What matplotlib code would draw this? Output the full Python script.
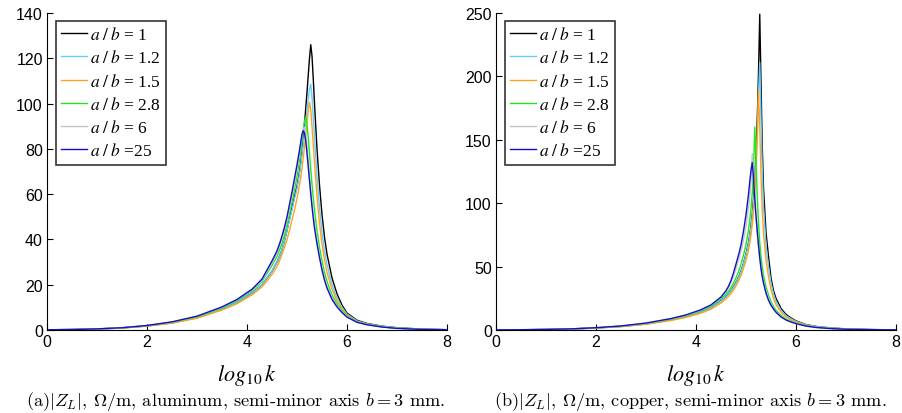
import numpy as np
import matplotlib
matplotlib.use("Agg")
import matplotlib.pyplot as plt
from matplotlib.font_manager import FontProperties

# ============================================================
# Data
# ============================================================

log_k = [0, 0.5, 1, 1.5, 2, 2.5, 3, 3.5, 3.8, 4.1, 4.3, 4.5,
         4.6, 4.65, 4.7, 4.75, 4.8, 4.85, 4.9, 4.95, 5.0, 5.05,
         5.075, 5.1, 5.125, 5.15, 5.175, 5.2, 5.225, 5.25, 5.275, 5.3, 5.325, 5.35,
         5.4, 5.45, 5.5, 5.55, 5.6,
         5.7, 5.8, 5.9, 6.0, 6.2, 6.4, 6.7, 7.0, 7.5, 8]

labels = ["1", "1.2", "1.5", "2.8", "6", "25"]

# (a) aluminum
al_1 = [0.1, 0.2, 0.45, 0.9, 1.8, 3.2, 5.5, 9.2, 12.2, 16.3, 20, 26,
        30, 32.5, 35.5, 39.5, 44, 49, 54, 59, 63.5, 70,
        74, 79, 84.5, 91, 98, 105, 112.5, 120, 126, 121, 111, 100,
        80, 64, 51, 41, 33.5,
        23, 16, 11, 7.5, 4.3, 2.9, 1.7, 1.0, 0.4, 0.15]
al_1_2 = [0.1, 0.2, 0.45, 0.9, 1.8, 3.2, 5.5, 9.2, 12.2, 16.3, 20, 26,
          30, 32.5, 35.5, 39.5, 44, 48.5, 53, 58, 62.5, 69,
          73, 77.5, 82, 87, 92, 97, 102, 106.5, 108.5, 103, 94, 85,
          68, 54, 43, 35, 29,
          20, 14, 10, 7, 4.0, 2.7, 1.6, 0.9, 0.35, 0.12]
al_1_5 = [0.1, 0.2, 0.42, 0.85, 1.7, 3.0, 5.2, 8.8, 11.6, 15.5, 19, 24.5,
          28, 30.5, 33.5, 36.5, 40, 44, 48.5, 53, 58, 64,
          67.5, 71.5, 76, 81, 86, 91.5, 97, 100.5, 97.5, 90, 82, 74,
          59, 47, 38, 31, 25.5,
          18, 12.8, 9.2, 6.6, 3.8, 2.6, 1.5, 0.85, 0.3, 0.1]
al_2_8 = [0.1, 0.2, 0.48, 0.95, 1.9, 3.4, 5.8, 9.7, 12.9, 17.2, 21.5, 28.5,
          32.5, 35.2, 38.3, 42, 46.5, 51.5, 56.5, 62, 68, 75,
          79, 83.5, 88, 92.5, 94, 91, 85, 78, 71, 64.5, 58.5, 53,
          44, 36.5, 30.5, 25.5, 21.5,
          15.5, 11.5, 8.5, 6.2, 3.6, 2.5, 1.4, 0.8, 0.3, 0.1]
al_6 = [0.1, 0.2, 0.5, 1.0, 2.0, 3.5, 6.0, 10, 13.3, 17.7, 22, 29.5,
        34, 37, 40.5, 44.3, 48.5, 53.5, 59, 65, 71, 78,
        82, 86, 89, 89.5, 86.5, 81, 74.5, 68, 62, 56.5, 51.5, 47,
        39.5, 33, 27.5, 23, 19.5,
        14.2, 10.7, 8, 5.9, 3.5, 2.4, 1.35, 0.75, 0.28, 0.1]
al_25 = [0.1, 0.2, 0.5, 1.0, 2.0, 3.6, 6.1, 10.2, 13.5, 18, 22.5, 30.5,
         35, 38, 41.5, 45.5, 50, 55.5, 61, 67, 73, 79.5,
         83, 86.5, 88, 87, 83.5, 78, 72, 66, 60, 54.5, 49.5, 45,
         38, 32, 26.5, 22, 18.5,
         13.5, 10.2, 7.7, 5.7, 3.4, 2.3, 1.3, 0.7, 0.27, 0.1]

# (b) copper
cu_1 = [0.1, 0.2, 0.4, 0.8, 1.6, 2.8, 4.8, 8, 10.5, 14.2, 17.5, 23,
        26.5, 28.5, 31, 34, 37.5, 41.5, 46.5, 52.5, 60, 69,
        75, 82, 91, 103, 118, 138, 166, 203, 249, 195, 145, 112,
        77, 58, 41, 31, 25,
        17, 12.3, 9.5, 7.2, 4.3, 2.8, 1.6, 0.9, 0.35, 0.12]
cu_1_2 = [0.1, 0.2, 0.4, 0.8, 1.6, 2.8, 4.8, 8, 10.5, 14.1, 17.4, 22.8,
          26.3, 28.3, 30.8, 33.7, 37.2, 41.2, 46, 52, 59.5, 68,
          74, 81, 89.5, 100, 114, 132, 155, 185, 211, 168, 127, 98,
          67, 50, 37, 28.5, 22.5,
          15.5, 11.3, 8.8, 6.8, 4.1, 2.7, 1.5, 0.85, 0.33, 0.11]
cu_1_5 = [0.1, 0.2, 0.38, 0.75, 1.5, 2.6, 4.5, 7.5, 9.9, 13.3, 16.4, 21.3,
          24.5, 26.5, 28.8, 31.5, 34.8, 38.5, 43, 48.5, 55, 63,
          68.5, 75, 83, 93, 106, 123, 150, 189, 160, 122, 95, 77,
          55, 42, 32, 25, 20,
          14, 10.4, 8, 6.3, 3.8, 2.5, 1.4, 0.8, 0.3, 0.1]
cu_2_8 = [0.1, 0.2, 0.42, 0.85, 1.7, 3.0, 5.1, 8.5, 11.2, 15, 18.6, 24.5,
          28.3, 30.8, 33.6, 37, 41, 46, 52, 59, 67.5, 79,
          86.5, 96, 108, 125, 160, 135, 105, 84, 69, 58, 49.5, 43,
          34, 27.5, 22.5, 18.5, 15.5,
          11.5, 8.8, 6.9, 5.5, 3.4, 2.2, 1.25, 0.7, 0.27, 0.1]
cu_6 = [0.1, 0.2, 0.44, 0.88, 1.75, 3.1, 5.3, 8.8, 11.6, 15.6, 19.3, 25.6,
        30.5, 33.5, 37.5, 42.5, 48.5, 55, 62, 71, 82, 97,
        106, 117, 139, 125, 105, 89, 76, 65, 56, 49, 43, 38,
        30.5, 25, 20.5, 17, 14.3,
        10.7, 8.2, 6.5, 5.2, 3.2, 2.1, 1.2, 0.65, 0.26, 0.1]
cu_25 = [0.1, 0.2, 0.45, 0.9, 1.8, 3.2, 5.5, 9, 11.9, 16, 19.8, 26,
         31, 34.5, 39, 45, 52, 59, 67, 78, 91, 107,
         117, 126, 132, 120, 104, 90, 78, 67, 57, 48.5, 42, 37,
         29, 23.5, 19.5, 16.5, 14,
         10.3, 7.9, 6.3, 5.0, 3.1, 2.0, 1.1, 0.6, 0.25, 0.1]

colors = ["#000000", "#66ccff", "#ffa31a", "#1ee81e", "#c4c4c4", "#1010c8"]

# ============================================================
# Plot
# ============================================================

serif = "Liberation Serif"
sans = "Liberation Sans"

fig = plt.figure(figsize=(9.03, 4.14), dpi=100)
ax1 = fig.add_axes([47 / 903, 83 / 414, 400 / 903, 317 / 414])
ax2 = fig.add_axes([496 / 903, 83 / 414, 400 / 903, 317 / 414])

panels = [
    (ax1, [al_1, al_1_2, al_1_5, al_2_8, al_6, al_25], 140, 20),
    (ax2, [cu_1, cu_1_2, cu_1_5, cu_2_8, cu_6, cu_25], 250, 50),
]

leg_font = FontProperties(family=serif, size=12.5, math_fontfamily="stix")

for ax, series, ymax, ystep in panels:
    for vals, lab, col in zip(series, labels, colors):
        if lab == "25":
            text = r"$a\;/\;b$ =" + lab
        else:
            text = r"$a\;/\;b$ = " + lab
        ax.plot(log_k, vals, color=col, linewidth=1.0, label=text)

    ax.set_xlim(0, 8)
    ax.set_ylim(0, ymax)
    ax.set_xticks(np.arange(0, 9, 2))
    ax.set_yticks(np.arange(0, ymax + 1, ystep))
    ax.spines["top"].set_visible(False)
    ax.spines["right"].set_visible(False)
    ax.tick_params(direction="in", length=4, width=0.8, labelsize=11.5, pad=3)
    for t in ax.get_xticklabels() + ax.get_yticklabels():
        t.set_family(sans)

    ax.set_xlabel(r"$log_{10}\,k$", fontsize=16, math_fontfamily="stix",
                  labelpad=9)

    leg = ax.legend(loc="upper left", bbox_to_anchor=(0.022, 0.975),
                    prop=leg_font, frameon=True, fancybox=False,
                    handlelength=1.5, handletextpad=0.15, labelspacing=0.36,
                    borderpad=0.3, borderaxespad=0.0)
    leg.get_frame().set_edgecolor("black")
    leg.get_frame().set_linewidth(1.2)

fig.text(236 / 903, 1 - 402 / 414,
         r"(a)$|Z_L|$, $\Omega/\mathrm{m}$, aluminum, semi-minor axis $b = 3$ mm.",
         family="cmr10", math_fontfamily="cm", fontsize=13.2,
         ha="center", va="center")
fig.text(690 / 903, 1 - 402 / 414,
         r"(b)$|Z_L|$, $\Omega/\mathrm{m}$, copper, semi-minor axis $b = 3$ mm.",
         family="cmr10", math_fontfamily="cm", fontsize=13.2,
         ha="center", va="center")

fig.savefig("out.png", dpi=100)
